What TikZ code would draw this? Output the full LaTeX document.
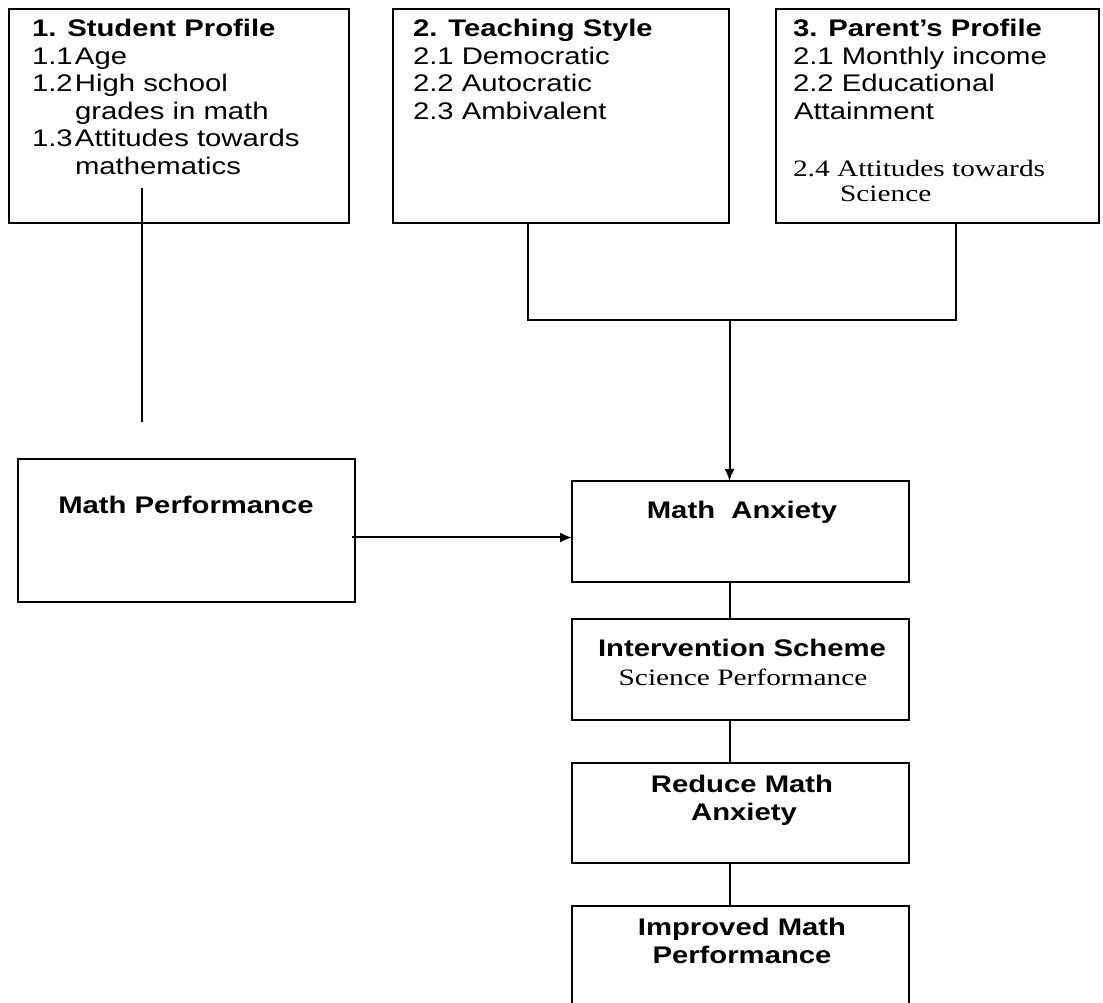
\documentclass[tikz,border=0pt]{standalone}
\usepackage{fontspec}
\setmainfont{Liberation Sans}
\newfontfamily\arw[FakeStretch=1.22]{Liberation Sans}
\newfontfamily\tmw[FakeStretch=1.25]{Liberation Serif}
\usetikzlibrary{arrows.meta}
\begin{document}
\begin{tikzpicture}[x=1pt,y=1pt,
  frame/.style={draw, line width=2pt, inner sep=0pt, outer sep=0pt},
  txt/.style={inner sep=0pt, outer sep=0pt, anchor=base west, font=\arw\fontsize{24}{28}\selectfont},
  btxt/.style={txt, font=\arw\bfseries\fontsize{24}{28}\selectfont},
  ctxt/.style={btxt, anchor=base},
  stxt/.style={inner sep=0pt, outer sep=0pt, anchor=base west, font=\tmw\fontsize{23.5}{28}\selectfont},
  link/.style={line width=2pt},
  arr/.style={line width=2pt, -{Latex[length=12pt,width=10pt]}},
]
% coordinates below are (x, 1002 - y_image)
\useasboundingbox (0,0) rectangle (1103,1002);
\fill[white] (0,0) rectangle (1103,1002);

% boxes
\node[frame, minimum width=340pt, minimum height=213.5pt] (b1) at (179,885.75) {};
\node[frame, minimum width=336pt, minimum height=213.5pt] (b2) at (561,885.75) {};
\node[frame, minimum width=323pt, minimum height=213.5pt] (b3) at (937.5,885.75) {};
\node[frame, minimum width=337pt, minimum height=143pt] (mp) at (186.5,471.5) {};
\node[frame, minimum width=337pt, minimum height=101pt] (ma) at (740.5,470.5) {};
\node[frame, minimum width=337pt, minimum height=101pt] (is) at (740.5,332.5) {};
\node[frame, minimum width=337pt, minimum height=100pt] (rm) at (740.5,189) {};
\begin{scope}
\clip (0,0) rectangle (1103,1002);
\node[frame, minimum width=337pt, minimum height=114pt] (im) at (740.5,39) {};
\end{scope}

% box 1 text
\node[btxt] (t1a) at (32,965) {1. Student Profile};
\node[txt] (t1b) at (32,937) {\makebox[43pt][l]{1.1}Age};
\node[txt] (t1c) at (32,910) {\makebox[43pt][l]{1.2}High school};
\node[txt] (t1d) at (75,882.5) {grades in math};
\node[txt] (t1e) at (32,855) {\makebox[43pt][l]{1.3}Attitudes towards};
\node[txt] (t1f) at (75,827) {mathematics};

% box 2 text
\node[btxt] (t2a) at (413,965) {2. Teaching Style};
\node[txt] (t2b) at (413,937.5) {2.1 Democratic};
\node[txt] (t2c) at (413,910) {2.2 Autocratic};
\node[txt] (t2d) at (413,882.5) {2.3 Ambivalent};

% box 3 text
\node[btxt] (t3a) at (793,965) {3. Parent’s Profile};
\node[txt] (t3b) at (793,937.5) {2.1 Monthly income};
\node[txt] (t3c) at (793,910) {2.2 Educational};
\node[txt] (t3d) at (794,882.5) {Attainment};
\node[stxt] (t3e) at (793,825) {2.4 Attitudes towards};
\node[stxt] (t3f) at (840,800) {Science};

% other texts
\node[ctxt] (tmp) at (186,488) {Math Performance};
\node[ctxt] (tma) at (742,483) {Math\ \ Anxiety};
\node[ctxt] (tis) at (742,345) {Intervention Scheme};
\node[stxt, anchor=base] (tsp) at (743,316) {Science Performance};
\node[ctxt] (trm1) at (742,210) {Reduce Math};
\node[ctxt] (trm2) at (744,182) {Anxiety};
\node[ctxt] (tim1) at (742,67) {Improved Math};
\node[ctxt] (tim2) at (742,39) {Performance};

% connectors
\coordinate (s1) at (142,814);
\coordinate (s2) at (142,580);
\draw[link] (s1) -- (s2);

\coordinate (l2) at (528,0);
\coordinate (l3) at (956,0);
\coordinate (hy) at (0,682);
\coordinate (cx) at (729.5,0);
\coordinate (j) at (cx |- hy);
\draw[link] (b2.south -| l2) -- (l2 |- hy) -- (l3 |- hy) -- (b3.south -| l3);
\draw[arr] (j) -- (ma.north -| cx);

\coordinate (ay) at (0,464.5);
\draw[arr] ([xshift=-3pt]mp.east |- ay) -- (ma.west |- ay);

\draw[link] (ma.south -| cx) -- (is.north -| cx);
\draw[link] (is.south -| cx) -- (rm.north -| cx);
\draw[link] (rm.south -| cx) -- (im.north -| cx);
\end{tikzpicture}
\end{document}
